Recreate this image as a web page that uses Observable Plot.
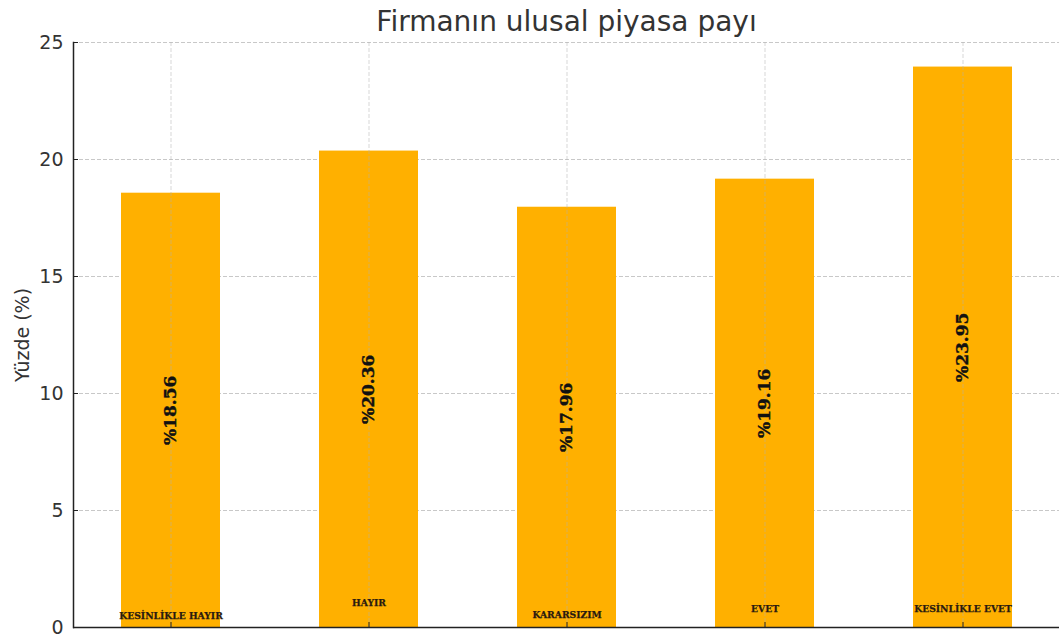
<!DOCTYPE html>
<html>
<head>
<meta charset="utf-8">
<script src="https://cdn.jsdelivr.net/npm/d3@7"></script>
<script src="https://cdn.jsdelivr.net/npm/@observablehq/plot@0.6"></script>
<style>
  html, body { margin: 0; padding: 0; background: #fff; }
  #chart svg { display: block; }
</style>
</head>
<body>
<div id="chart"></div>
<script>
const categories = ["KESİNLİKLE HAYIR", "HAYIR", "KARARSIZIM", "EVET", "KESİNLİKLE EVET"];
const values = [18.56, 20.36, 17.96, 19.16, 23.95];
const valueLabels = ["%18.56", "%20.36", "%17.96", "%19.16", "%23.95"];
const categoryLabelY = [0.5, 1.03, 0.55, 0.77, 0.77];
const yTicks = [0, 5, 10, 15, 20, 25];
const title = "Firmanın ulusal piyasa payı";
const yLabel = "Yüzde (%)";

const data = categories.map((c, i) => ({
  cat: c, value: values[i], label: valueLabels[i], labelY: categoryLabelY[i]
}));

const serif = "'DejaVu Serif', 'Liberation Serif', serif";
const sans = "'DejaVu Sans', sans-serif";

const chart = Plot.plot({
  width: 1059,
  height: 641,
  marginTop: 42,
  marginBottom: 14,
  marginLeft: 73,
  marginRight: 0,
  style: { fontFamily: sans, background: "#fff", overflow: "hidden" },
  x: { domain: categories, range: [71, 1061], paddingInner: 0.5, paddingOuter: 0.25, axis: null, label: null },
  y: { domain: [0, 25], axis: null, label: null },
  marks: [
    Plot.ruleY(yTicks, { stroke: "#c8c8c8", strokeDasharray: "4,2", strokeWidth: 1 }),
    Plot.barY(data, { x: "cat", y: "value", fill: "#FFB000" }),
    Plot.ruleX(categories, { x: d => d, stroke: "#b0b0b0", strokeOpacity: 0.5, strokeDasharray: "4,2", strokeWidth: 1 }),
    Plot.text(data, {
      x: "cat", y: d => d.value / 2, text: "label", rotate: -90,
      fontFamily: serif, fontWeight: "900", fontSize: 17, fill: "#111", stroke: "#111", strokeWidth: 0.4
    }),
    Plot.text(data, {
      x: "cat", y: "labelY", text: "cat",
      fontFamily: serif, fontWeight: "900", fontSize: 9.2, fill: "#2a1a10", stroke: "#2a1a10", strokeWidth: 0.25
    }),
    Plot.axisY({ ticks: yTicks, tickSize: 0, tickPadding: 10, fontSize: 19, fill: "#333", label: null }),
    Plot.axisY({ ticks: yTicks, tickSize: -5, tickFormat: () => "", stroke: "#222", label: null }),
    Plot.axisX({ tickSize: -5, tickFormat: () => "", stroke: "#222", anchor: "bottom", label: null }),
    Plot.frame({ anchor: "left", stroke: "#222", strokeWidth: 1.5 }),
    Plot.ruleY([0], { stroke: "#222", strokeWidth: 1.5 }),
    Plot.text([yLabel], { frameAnchor: "left", dx: -51, rotate: -90, textAnchor: "middle", fontSize: 19, fill: "#333" }),
    Plot.text([title], { frameAnchor: "top", fontSize: 28, fill: "#333", lineAnchor: "bottom", dy: -12 })
  ]
});
document.getElementById("chart").appendChild(chart);
</script>
</body>
</html>
